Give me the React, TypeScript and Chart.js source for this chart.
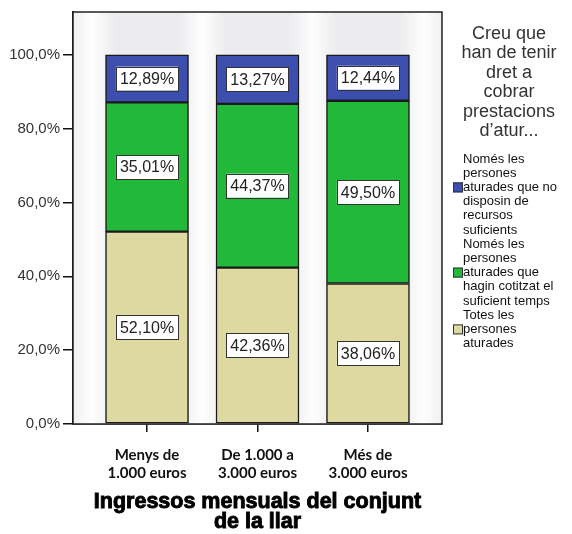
import React, { useEffect, useRef } from "react";
import { Chart, registerables } from "chart.js";
Chart.register(...registerables);

const categories: string[][] = [
  ["Menys de", "1.000 euros"],
  ["De 1.000 a", "3.000 euros"],
  ["Més de", "3.000 euros"],
];
const totesValues = [52.1, 42.36, 38.06];
const cotitzatValues = [35.01, 44.37, 49.5];
const senseRecursosValues = [12.89, 13.27, 12.44];
const seriesLines: string[][] = [
  ["Només les", "persones", "aturades que no", "disposin de", "recursos", "suficients"],
  ["Només les", "persones", "aturades que", "hagin cotitzat el", "suficient temps"],
  ["Totes les", "persones", "aturades"],
];
const legendTitle = ["Creu que", "han de tenir", "dret a", "cobrar", "prestacions", "d’atur..."];
const xTitle = ["Ingressos mensuals del conjunt", "de la llar"];
const yTickValues = [0, 20, 40, 60, 80, 100];

const BLUE = "#3c4fae";
const GREEN = "#22b83a";
const TAN = "#ddd9a0";

const fmtPct = (v: number) => v.toFixed(2).replace(".", ",") + "%";

export default function App() {
  const ref = useRef<HTMLCanvasElement>(null);
  useEffect(() => {
    const ctx = ref.current!.getContext("2d")!;
    const mk = (vals: number[]) => vals.map((v, i) => ({ x: i, y: v }));
    const datasets = [
      { label: seriesLines[2].join(" "), data: mk(totesValues), backgroundColor: TAN },
      { label: seriesLines[1].join(" "), data: mk(cotitzatValues), backgroundColor: GREEN },
      { label: seriesLines[0].join(" "), data: mk(senseRecursosValues), backgroundColor: BLUE },
    ].map((d) => ({
      ...d,
      borderColor: "#1a1a1a",
      borderWidth: 1.5,
      borderSkipped: false as any,
      barThickness: 83,
    }));

    const bgPlugin = {
      id: "bg",
      beforeDatasetsDraw(chart: any) {
        const { ctx, chartArea: a, scales } = chart;
        ctx.save();
        ctx.fillStyle = "#ececef";
        ctx.fillRect(a.left, a.top, a.right - a.left, a.bottom - a.top);
        const xs = scales.x;
        for (let i = -1; i < categories.length; i++) {
          const c = xs.getPixelForValue(i + 0.5);
          const w = 24;
          const g = ctx.createLinearGradient(c - w, 0, c + w, 0);
          g.addColorStop(0, "rgba(255,255,255,0)");
          g.addColorStop(0.5, "rgba(255,255,255,0.95)");
          g.addColorStop(1, "rgba(255,255,255,0)");
          ctx.fillStyle = g;
          const l = Math.max(a.left, c - w);
          const r = Math.min(a.right, c + w);
          if (r > l) ctx.fillRect(l, a.top, r - l, a.bottom - a.top);
        }
        ctx.restore();
      },
    };

    const overlayPlugin = {
      id: "overlay",
      afterDraw(chart: any) {
        const { ctx, chartArea: a } = chart;
        ctx.save();
        ctx.strokeStyle = "#222";
        ctx.lineWidth = 1.5;
        ctx.strokeRect(a.left, a.top, a.right - a.left, a.bottom - a.top);

        ctx.font = "16px 'Liberation Sans', Arial, sans-serif";
        ctx.textAlign = "center";
        ctx.textBaseline = "middle";
        chart.data.datasets.forEach((ds: any, di: number) => {
          const meta = chart.getDatasetMeta(di);
          meta.data.forEach((el: any, i: number) => {
            const v = ds.data[i].y;
            const txt = fmtPct(v);
            const cy = (el.y + el.base) / 2;
            const cx = el.x;
            const tw = ctx.measureText(txt).width;
            const bw = tw + 8;
            const bh = 24;
            ctx.fillStyle = "#ffffff";
            ctx.fillRect(cx - bw / 2, cy - bh / 2, bw, bh);
            ctx.strokeStyle = "#333";
            ctx.lineWidth = 1;
            ctx.strokeRect(Math.round(cx - bw / 2) + 0.5, Math.round(cy - bh / 2) + 0.5, Math.round(bw), bh);
            ctx.fillStyle = "#222";
            ctx.fillText(txt, cx, cy + 1);
          });
        });

        const midX = (a.left + a.right) / 2;
        ctx.font = "bold 21.5px 'Liberation Sans', Arial, sans-serif";
        ctx.fillStyle = "#000";
        ctx.strokeStyle = "#000";
        ctx.lineWidth = 0.9;
        xTitle.forEach((line, i) => {
          const y = a.bottom + 78 + i * 20;
          ctx.fillText(line, midX, y);
          ctx.strokeText(line, midX, y);
        });

        const lx = 509;
        ctx.font = "18px 'Liberation Sans', Arial, sans-serif";
        ctx.fillStyle = "#333";
        legendTitle.forEach((line, i) => {
          ctx.fillText(line, lx, a.top + 22 + i * 19.5);
        });

        const colors = [BLUE, GREEN, TAN];
        ctx.font = "13px 'Liberation Sans', Arial, sans-serif";
        ctx.textAlign = "left";
        let y = a.top + 147;
        const lh = 14.2;
        seriesLines.forEach((lines, si) => {
          const boxLine = Math.floor((lines.length - 1) / 2);
          const by = y + boxLine * lh;
          ctx.fillStyle = colors[si];
          ctx.fillRect(453, by - 5, 10, 10);
          ctx.strokeStyle = "#333";
          ctx.lineWidth = 1;
          ctx.strokeRect(453.5, by - 4.5, 9, 9);
          ctx.fillStyle = "#111";
          lines.forEach((ln, li) => {
            ctx.fillText(ln, 463, y + li * lh);
          });
          y += lines.length * lh;
        });
        ctx.restore();
      },
    };

    const chart = new Chart(ctx, {
      type: "bar",
      data: { datasets: datasets as any },
      plugins: [bgPlugin, overlayPlugin],
      options: {
        animation: false,
        responsive: false,
        maintainAspectRatio: false,
        layout: { padding: { top: 10, right: 130, left: 0, bottom: 0 } },
        plugins: { legend: { display: false }, tooltip: { enabled: false }, title: { display: false } },
        scales: {
          x: {
            type: "linear",
            stacked: true,
            offset: false,
            min: -0.67,
            max: 2.67,
            afterBuildTicks: (s: any) => {
              s.ticks = categories.map((_, i) => ({ value: i }));
            },
            afterFit: (s: any) => {
              s.height = 110;
            },
            grid: { offset: false, drawOnChartArea: false, drawTicks: true, tickLength: 8, color: "#111", lineWidth: 1.5 },
            border: { display: true, color: "#111", width: 1.5 },
            ticks: {
              callback: (v: any) => categories[Math.round(v)] ?? "",
              color: "#111",
              font: { family: "Lato", weight: "bold", size: 15, lineHeight: 1.2 },
              padding: 14,
              maxRotation: 0,
              autoSkip: false,
            },
          },
          y: {
            stacked: true,
            min: 0,
            max: 111.6,
            afterBuildTicks: (s: any) => {
              s.ticks = yTickValues.map((v) => ({ value: v }));
            },
            afterFit: (s: any) => {
              s.width = 73;
            },
            grid: { drawOnChartArea: false, drawTicks: true, tickLength: 10, color: "#111", lineWidth: 1.5 },
            border: { display: true, color: "#111", width: 1.5 },
            ticks: {
              callback: (v: any) => Number(v).toFixed(1).replace(".", ",") + "%",
              color: "#333",
              font: { family: "'Liberation Sans', Arial, sans-serif", size: 15 },
              padding: 3,
            },
          },
        },
      },
    });
    return () => chart.destroy();
  }, []);
  return (
    <div style={{ position: "fixed", left: 0, top: 0, width: 572, height: 534, background: "#fff" }}>
      <canvas ref={ref} width={572} height={534} style={{ display: "block" }} />
    </div>
  );
}
